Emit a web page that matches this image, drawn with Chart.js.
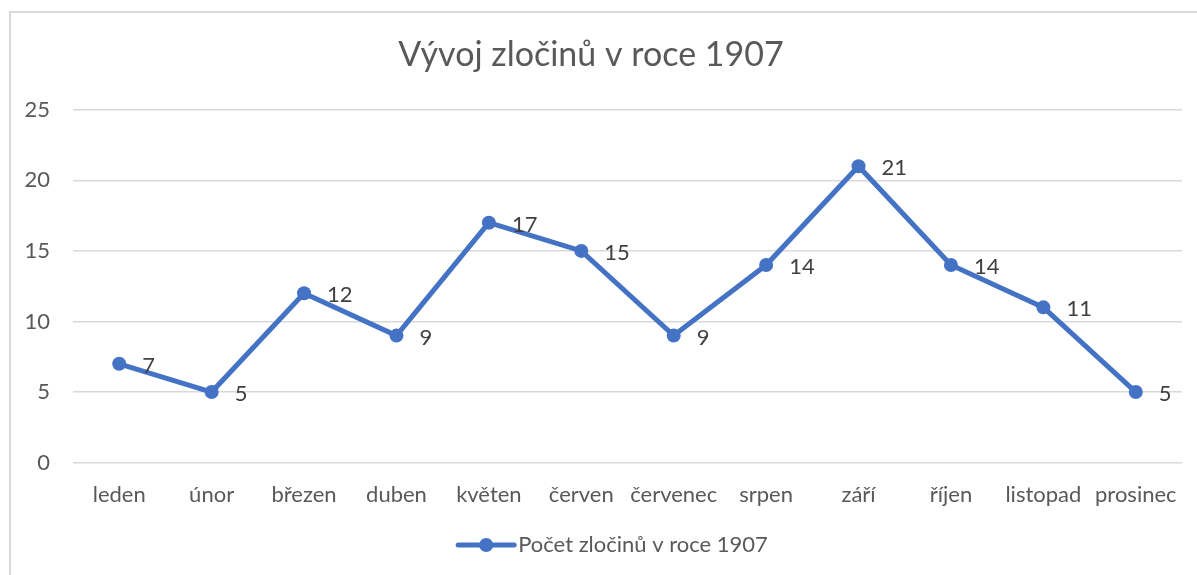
<!DOCTYPE html>
<html lang="cs">
<head>
<meta charset="utf-8">
<script src="https://cdn.jsdelivr.net/npm/chart.js@4.4.1/dist/chart.umd.min.js"></script>
<style>
  html, body { margin: 0; padding: 0; background: #fff; overflow: hidden; }
  #frame {
    position: absolute; left: 9px; top: 11px;
    width: 1300px; height: 700px;
    border: 2px solid #d9d9d9; box-sizing: border-box;
  }
  #chart { position: absolute; left: 0; top: 0; }
</style>
</head>
<body>
<div id="frame"></div>
<canvas id="chart" width="1197" height="575"></canvas>
<script>
// data
const months = ['leden', 'únor', 'březen', 'duben', 'květen', 'červen',
                'červenec', 'srpen', 'září', 'říjen', 'listopad', 'prosinec'];
const crimes = [7, 5, 12, 9, 17, 15, 9, 14, 21, 14, 11, 5];
const yTicks = [0, 5, 10, 15, 20, 25];
const seriesName = 'Počet zločinů v roce 1907';
const chartTitle = 'Vývoj zločinů v roce 1907';

const BLUE = '#4472C4';
const FONT = 'Lato, "Noto Sans", sans-serif';

Chart.defaults.font.family = FONT;
Chart.defaults.color = '#595959';

// value labels to the right of each point
const pointLabels = {
    id: 'pointLabels',
    afterDatasetsDraw(chart) {
        const ctx = chart.ctx;
        const meta = chart.getDatasetMeta(0);
        ctx.save();
        ctx.font = '22px ' + FONT;
        ctx.fillStyle = '#404040';
        ctx.textAlign = 'left';
        ctx.textBaseline = 'middle';
        meta.data.forEach((pt, i) => {
            ctx.fillText(String(crimes[i]), pt.x + 23, pt.y + 2);
        });
        ctx.restore();
    }
};

// Excel-style legend: line with a dot, then the series name
const lineLegend = {
    id: 'lineLegend',
    afterDraw(chart) {
        const ctx = chart.ctx;
        ctx.save();
        ctx.font = '22px ' + FONT;
        const tw = ctx.measureText(seriesName).width;
        const total = 56 + 4 + tw;
        const x0 = 613 - total / 2;
        const y = 545;
        ctx.strokeStyle = BLUE;
        ctx.lineWidth = 5;
        ctx.lineCap = 'round';
        ctx.beginPath();
        ctx.moveTo(x0, y);
        ctx.lineTo(x0 + 56, y);
        ctx.stroke();
        ctx.fillStyle = BLUE;
        ctx.beginPath();
        ctx.arc(x0 + 28, y, 7, 0, Math.PI * 2);
        ctx.fill();
        ctx.fillStyle = '#595959';
        ctx.textAlign = 'left';
        ctx.textBaseline = 'middle';
        ctx.fillText(seriesName, x0 + 60, y);
        ctx.restore();
    }
};

const chart = new Chart(document.getElementById('chart'), {
    type: 'line',
    data: {
        labels: months,
        datasets: [{
            label: seriesName,
            data: crimes,
            borderColor: BLUE,
            backgroundColor: BLUE,
            borderWidth: 5,
            pointRadius: 7,
            pointBorderWidth: 0,
            pointBackgroundColor: BLUE,
            tension: 0
        }]
    },
    options: {
        responsive: false,
        animation: false,
        layout: { padding: { left: 0, right: 15, top: 0, bottom: 56 } },
        plugins: {
            legend: { display: false },
            tooltip: { enabled: false },
            title: {
                display: true,
                text: chartTitle,
                color: '#595959',
                font: { size: 34, weight: 'normal' },
                padding: { top: 35, bottom: 34 }
            }
        },
        scales: {
            x: {
                offset: true,
                grid: { display: false },
                border: { display: false },
                ticks: { font: { size: 22 }, padding: 11, maxRotation: 0, autoSkip: false }
            },
            y: {
                min: 0,
                max: 25,
                afterFit(scale) { scale.width = 73; },
                afterBuildTicks(scale) { scale.ticks = yTicks.map(v => ({ value: v })); },
                grid: { color: '#d9d9d9', lineWidth: 1.5, drawTicks: false },
                border: { display: false },
                ticks: { font: { size: 22 }, padding: 23 }
            }
        }
    },
    plugins: [pointLabels, lineLegend]
});
</script>
</body>
</html>
